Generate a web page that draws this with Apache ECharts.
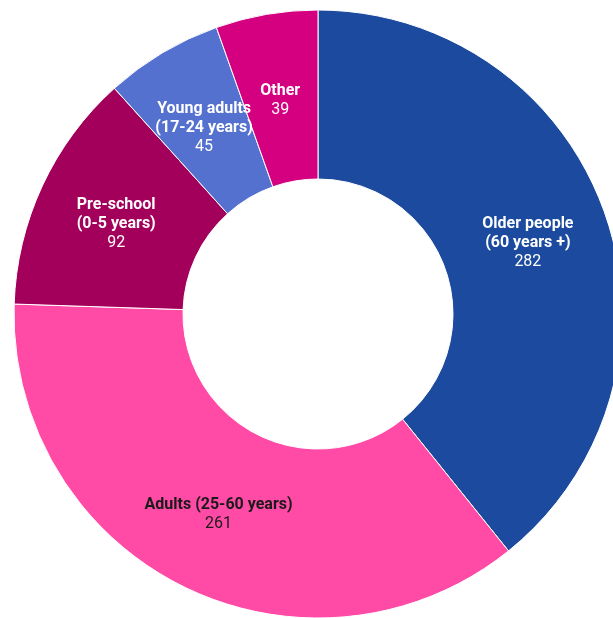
<!DOCTYPE html>
<html>
<head>
<meta charset="utf-8">
<script src="https://cdn.jsdelivr.net/npm/echarts@6/dist/echarts.min.js"></script>
<style>
  html, body { margin: 0; padding: 0; background: #fff; }
  #main { width: 613px; height: 618px; }
</style>
</head>
<body>
<div id="main"></div>
<script>
var names = ['Older people\n(60 years +)', 'Adults (25-60 years)', 'Pre-school\n(0-5 years)', 'Young adults\n(17-24 years)', 'Other'];
var values = [282, 261, 92, 45, 39];
var colors = ['#1b4a9f', '#ff4ba5', '#a3005c', '#5571cf', '#d5007f'];
var labelColors = ['#fff', '#1a1a1a', '#fff', '#fff', '#fff'];
var labelShift = [3, 1, 4, 5, 6];

var myChart = echarts.init(document.getElementById('main'));

var data = values.map(function (v, i) {
    return {
        value: v,
        name: names[i],
        itemStyle: { color: colors[i] },
        label: {
            offset: [0, labelShift[i]],
            rich: {
                b: { fontWeight: 'bold', color: labelColors[i], fontSize: 16, lineHeight: 19, fontFamily: 'Roboto' },
                n: { color: labelColors[i], fontSize: 16, lineHeight: 19, fontFamily: 'Roboto' }
            }
        }
    };
});

var option = {
    animation: false,
    series: [
        {
            type: 'pie',
            center: [318, 314],
            radius: [135, 304],
            startAngle: 90,
            clockwise: true,
            avoidLabelOverlap: false,
            itemStyle: { borderColor: '#fff', borderWidth: 1 },
            label: {
                show: true,
                position: 'inside',
                formatter: function (p) {
                    return p.name.split('\n').map(function (s) { return '{b|' + s + '}'; }).join('\n') + '\n{n|' + p.value + '}';
                }
            },
            labelLine: { show: false },
            data: data
        }
    ]
};

myChart.setOption(option);
</script>
</body>
</html>
